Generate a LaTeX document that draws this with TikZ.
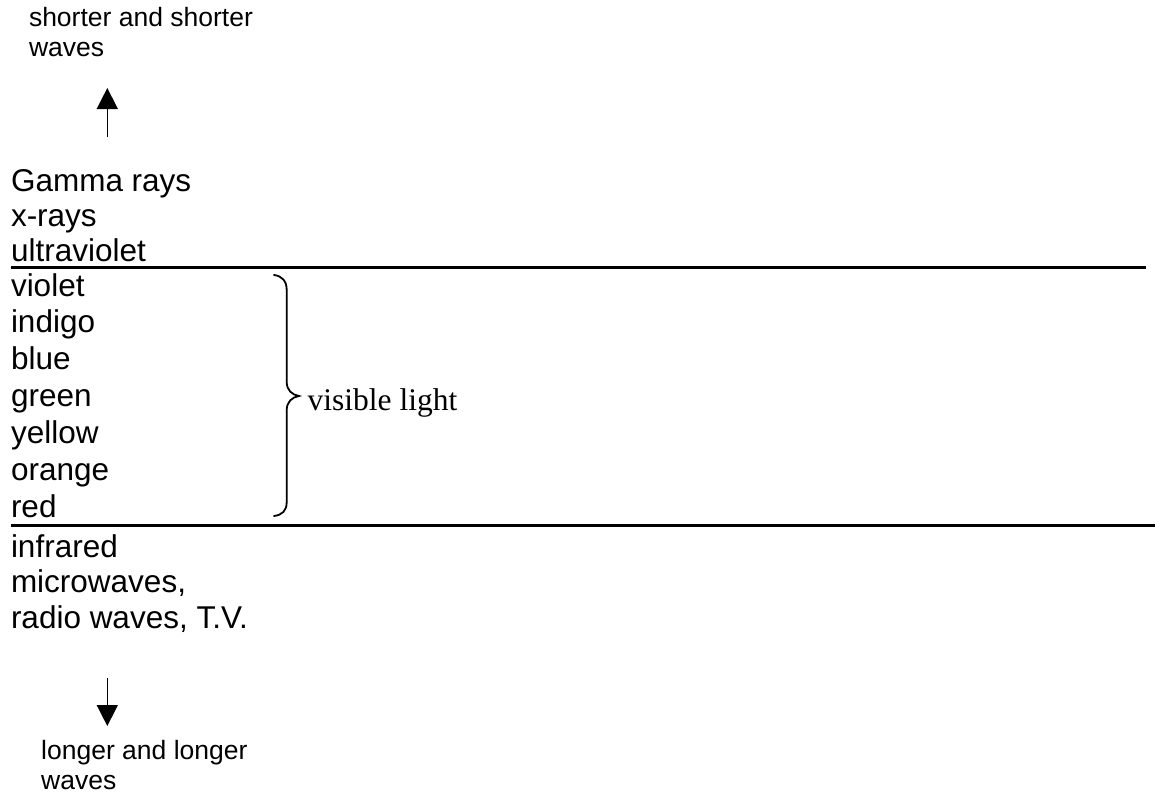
\documentclass[tikz,border=0pt]{standalone}
\usepackage{fontspec}
\setmainfont{Liberation Sans}
\newfontfamily\timesfont{Liberation Serif}
\usetikzlibrary{arrows.meta}
\begin{document}
\begin{tikzpicture}[x=1pt,y=-1pt,
  lbl/.style={anchor=base west,inner sep=0pt,outer sep=0pt,font=\fontsize{31.5}{36}\selectfont},
  small/.style={anchor=base west,inner sep=0pt,outer sep=0pt,font=\fontsize{26.5}{30}\selectfont},
  rule/.style={line width=3.3pt},
  dirarrow/.style={line width=1.5pt,-{Triangle[length=21pt,width=21pt]}},
  bracestyle/.style={line width=1.8pt,line cap=round}]
\useasboundingbox (0,0) rectangle (1155,795);
% top caption
\node[small] (s1) at (29,26) {shorter and shorter};
\node[small] (s2) at (29,56.6) {waves};
\coordinate (upfrom) at (107.3,137);
\coordinate (upto) at (107.3,88);
\draw[dirarrow] (upfrom) -- (upto);
% list
\node[lbl] (l0) at (11,191.5) {Gamma rays};
\node[lbl] (l1) at (11,226.5) {x-rays};
\node[lbl] (l2) at (11,261) {ultraviolet};
\node[lbl] (l3) at (11,296) {violet};
\node[lbl] (l4) at (11,332.9) {indigo};
\node[lbl] (l5) at (11,369.8) {blue};
\node[lbl] (l6) at (11,406.8) {green};
\node[lbl] (l7) at (11,443.7) {yellow};
\node[lbl] (l8) at (11,480.6) {orange};
\node[lbl] (l9) at (11,517.5) {red};
\node[lbl] (l10) at (11,557) {infrared};
\node[lbl] (l11) at (11,592.5) {microwaves,};
\node[lbl] (l12) at (11,628) {radio waves, T.V.};
% rules
\coordinate (r1a) at (11,267.5);
\coordinate (r1b) at (1146,267.5);
\coordinate (r2a) at (11,525.5);
\coordinate (r2b) at (1155,525.5);
\draw[rule] (r1a) -- (r1b);
\draw[rule] (r2a) -- (r2b);
% brace
\draw[bracestyle] (274,275) .. controls (282,276) and (286.7,281) .. (286.7,290)
  -- (286.7,382) .. controls (286.7,390) and (292,395) .. (299,396)
  .. controls (292,397) and (286.7,402) .. (286.7,410)
  -- (286.7,502) .. controls (286.7,511) and (282,515) .. (274,516);
\node[anchor=base west,inner sep=0pt,font=\timesfont\fontsize{31.5}{36}\selectfont] (vis) at (307.5,410) {visible light};
% bottom caption
\coordinate (downfrom) at (107.3,678);
\coordinate (downto) at (107.3,726);
\draw[dirarrow] (downfrom) -- (downto);
\node[small] (b1) at (41.2,759.3) {longer and longer};
\node[small] (b2) at (41.2,789) {waves};
\end{tikzpicture}
\end{document}
